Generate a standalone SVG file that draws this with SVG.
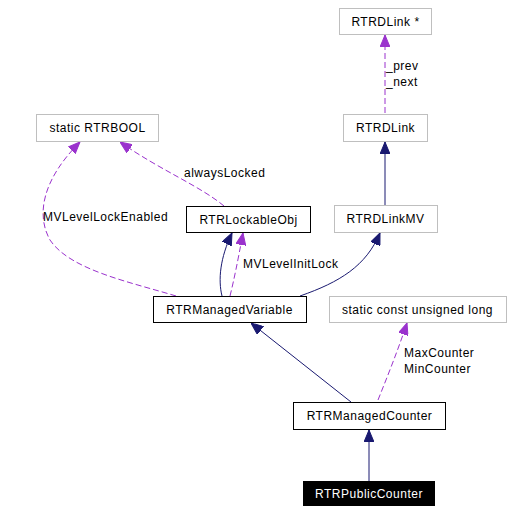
<svg xmlns="http://www.w3.org/2000/svg" width="512" height="514" viewBox="0 0 512 514">
<style>
text{font-family:"Liberation Sans",Arial,sans-serif;font-size:12px;fill:#000;letter-spacing:0.5px}
.t{text-anchor:middle}
.b{fill:#fff;stroke:#000;stroke-width:1}
.g{fill:#fff;stroke:#bfbfbf;stroke-width:1}
.inh{fill:none;stroke:#191970;stroke-width:1;marker-end:url(#an)}
.use{fill:none;stroke:#9a32cd;stroke-width:1;stroke-dasharray:6,3;marker-end:url(#ap)}
</style>
<defs>
<marker id="an" markerUnits="userSpaceOnUse" markerWidth="12" markerHeight="10" refX="12" refY="5" orient="auto"><path d="M0,0 L12,5 L0,10 z" fill="#191970" stroke="#191970"/></marker>
<marker id="ap" markerUnits="userSpaceOnUse" markerWidth="12" markerHeight="10" refX="12" refY="5" orient="auto"><path d="M0,0 L12,5 L0,10 z" fill="#9a32cd" stroke="#9a32cd"/></marker>
</defs>
<rect width="512" height="514" fill="#fff"/>
<g id="edges">
<path class="use" d="M385,113 L385,35"/>
<path class="inh" d="M385,205 L385,142"/>
<path class="inh" d="M222,296 C218,280 220,258 232,233"/>
<path class="use" d="M230,296 C234,280 238,260 243,233"/>
<path class="use" d="M176,296 C130,282 70,270 50,240 C36,215 42,180 80,142"/>
<path class="use" d="M224,206 C200,186 160,170 120,142"/>
<path class="inh" d="M300,296 C340,282 366,266 380,233"/>
<path class="inh" d="M351,402 L251,323"/>
<path class="use" d="M378,400 C388,375 398,350 407,323"/>
<path class="inh" d="M369,481 L369,430"/>
<text x="386" y="70">_prev</text>
<text x="386" y="86">_next</text>
<text x="243" y="268">MVLevelInitLock</text>
<text x="43" y="221">MVLevelLockEnabled</text>
<text x="184" y="177">alwaysLocked</text>
<text x="404" y="357">MaxCounter</text>
<text x="404" y="373">MinCounter</text>
</g>
<g id="n_RTRDLinkPtr"><rect class="g" x="339.5" y="8.5" width="92" height="26"/><text class="t" x="385.5" y="26">RTRDLink *</text></g>
<g id="n_RTRDLink"><rect class="g" x="343.5" y="114.5" width="84" height="27"/><text class="t" x="385.5" y="132">RTRDLink</text></g>
<g id="n_RTRBOOL"><rect class="g" x="36.5" y="114.5" width="122" height="27"/><text class="t" x="97.5" y="132">static RTRBOOL</text></g>
<g id="n_RTRLockableObj"><rect class="b" x="186.5" y="206.5" width="124" height="26"/><text class="t" x="248.5" y="224">RTRLockableObj</text></g>
<g id="n_RTRDLinkMV"><rect class="g" x="334.5" y="205.5" width="103" height="27"/><text class="t" x="385.5" y="223">RTRDLinkMV</text></g>
<g id="n_RTRManagedVariable"><rect class="b" x="153.5" y="296.5" width="153" height="26"/><text class="t" x="229.5" y="314">RTRManagedVariable</text></g>
<g id="n_ulong"><rect class="g" x="329.5" y="296.5" width="177" height="26"/><text class="t" x="417.5" y="314">static const unsigned long</text></g>
<g id="n_RTRManagedCounter"><rect class="b" x="293.5" y="402.5" width="152" height="27"/><text class="t" x="369.5" y="420">RTRManagedCounter</text></g>
<g id="n_RTRPublicCounter"><rect x="303" y="481" width="132" height="25" fill="#000"/><text class="t" x="369" y="498" style="fill:#fff">RTRPublicCounter</text></g>
</svg>
